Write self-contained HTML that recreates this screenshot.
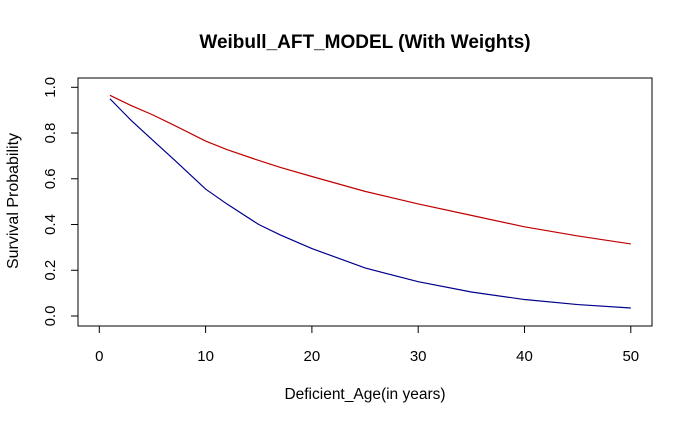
<!DOCTYPE html>
<html><head><meta charset="utf-8"><style>
body{margin:0;background:#fff;width:693px;height:424px;overflow:hidden}
svg{display:block;font-family:"Liberation Sans",Arial,sans-serif}
</style></head><body>
<svg id="chart" width="693" height="424">
<text x="365" y="48" text-anchor="middle" font-size="19" font-weight="bold">Weibull_AFT_MODEL (With Weights)</text>
<text x="365" y="399" text-anchor="middle" font-size="15.5">Deficient_Age(in years)</text>
<text transform="translate(18,201) rotate(-90)" text-anchor="middle" font-size="16">Survival Probability</text>
<rect x="78" y="78" width="574" height="248" fill="none" stroke="#000" stroke-width="1"/>
<g id="axes"></g>
<g id="series"></g>
</svg>
<script>
const xTicks=[0,10,20,30,40,50];
const yTicks=[0,0.2,0.4,0.6,0.8,1.0];
const yTickLabels=["0.0","0.2","0.4","0.6","0.8","1.0"];
const ages=[1,3,5,7,10,12,15,17,20,25,30,35,40,45,50];
const redValues=[0.965,0.92,0.88,0.835,0.765,0.728,0.68,0.65,0.61,0.545,0.49,0.44,0.39,0.35,0.315];
const blueValues=[0.95,0.855,0.77,0.685,0.555,0.49,0.40,0.355,0.295,0.21,0.15,0.105,0.072,0.05,0.035];
const xs=v=>99.3+v*10.63;
const ys=v=>316-v*228.7;
const NS="http://www.w3.org/2000/svg";
const axes=document.getElementById('axes'),series=document.getElementById('series');
function mk(t,a,p){const e=document.createElementNS(NS,t);for(const k in a)e.setAttribute(k,a[k]);p.appendChild(e);return e;}
xTicks.forEach(t=>{
  const l=mk('line',{x1:xs(t),x2:xs(t),y1:326,y2:333,stroke:'#000'},axes);
  
  
  const tx=mk('text',{x:xs(t),y:361,'text-anchor':'middle','font-size':15},axes);
  tx.textContent=t;
  
  
});
yTicks.forEach((t,i)=>{
  const l=mk('line',{x1:71,x2:78,y1:ys(t),y2:ys(t),stroke:'#000'},axes);
  
  
  const tx=mk('text',{transform:`translate(55,${ys(t)}) rotate(-90)`,'text-anchor':'middle','font-size':15},axes);
  tx.textContent=yTickLabels[i];
  
  
});
function line(vals,color,name){
  const p=mk('polyline',{points:ages.map((a,i)=>xs(a)+','+ys(vals[i])).join(' '),fill:'none',stroke:color,'stroke-width':1.2},series);
  
  
}
line(redValues,'#c00000','red-survival-curve');
line(blueValues,'#00008b','blue-survival-curve');
</script>
</body></html>
